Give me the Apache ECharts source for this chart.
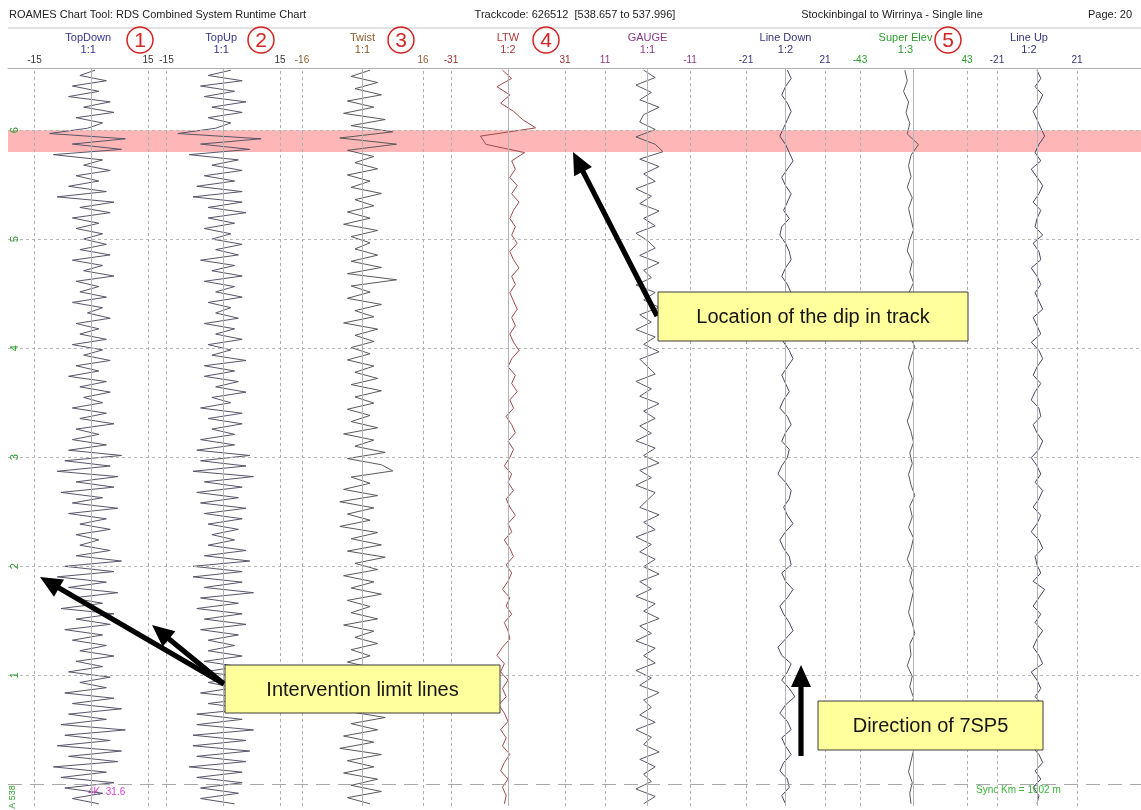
<!DOCTYPE html>
<html><head><meta charset="utf-8">
<script src="https://cdn.jsdelivr.net/npm/echarts@6/dist/echarts.min.js"></script>
<style>html,body{margin:0;padding:0;background:#fff}#c{width:1141px;height:810px}</style>
</head><body><div id="c"></div>
<script>
// ---------- data ----------
const channelNames = ['TopDown','TopUp','Twist','LTW','GAUGE','Line Down','Super Elev','Line Up'];
const channelScales = ['1:1','1:1','1:1','1:2','1:1','1:2','1:3','1:2'];
const channelLimits = [15,15,16,31,11,21,43,21];
const channelInverse = [false,false,false,false,true,false,false,false];
const kmTicks = [538.6,538.5,538.4,538.3,538.2,538.1];
const kmTickLabels = ['6','5','4','3','2','1'];
const kmSync = 538.0;
const dipBand = [538.6, 538.58];
const kmRange = [537.98, 538.657];
const kmFirstSample = 538.655, kmLastSample = 537.982;
const headerTexts = ['ROAMES Chart Tool: RDS Combined System Runtime Chart','Trackcode: 626512  [538.657 to 537.996]','Stockinbingal to Wirrinya - Single line','Page: 20'];
const calloutTexts = ['Location of the dip in track','Intervention limit lines','Direction of 7SP5'];
const circledNumbers = ['1','2','3','4','5'];
const footerTexts = ['4K  31.6','Sync Km = 1602 m','A 538'];

const topDown = [1,-3,4,-5,2,-6,5,-2,6,-4,3,-1,
 -11,9,-5,8,-10,
 3,-2,5,-4,2,-6,4,-9,6,-3,5,-5,2,-4,3,
 -2,4,-3,5,-5,3,-2,6,-4,2,-3,4,-5,3,-1,5,-4,2,-3,
 4,-5,3,-2,5,-4,2,-6,4,-3,5,-2,3,-5,4,-3,6,-4,2,-5,
 4,-6,8,-7,5,-9,7,-4,6,-8,3,-5,7,-6,4,-3,5,-4,2,-3,
 5,-4,8,-7,6,-9,4,-6,7,-5,3,-8,6,-4,5,-7,3,-5,4,-3,
 6,-4,3,-6,5,-3,4,-7,6,-5,8,-6,4,-8,9,-7,5,-9,8,-6,7,-10,4,-8,6,-7,3,-5,2];
const topUp = [2,-4,5,-6,3,-5,6,-3,5,-4,2,-2,
 -12,10,-6,7,-9,
 4,-3,5,-5,3,-7,5,-8,5,-4,6,-4,3,-5,2,
 -3,5,-2,4,-6,3,-3,5,-5,3,-2,5,-4,2,-2,4,-5,3,-2,
 5,-4,2,-3,6,-5,3,-5,4,-2,6,-3,2,-6,5,-4,5,-3,3,-6,
 3,-7,7,-6,6,-8,8,-5,5,-7,4,-6,6,-5,5,-4,4,-3,3,-4,
 6,-5,7,-8,5,-8,5,-5,8,-6,4,-7,5,-5,6,-6,4,-4,3,-4,
 5,-5,4,-5,6,-4,3,-6,7,-4,7,-7,5,-7,8,-8,6,-8,7,-7,6,-9,5,-7,5,-6,4,-6,3];
const twist = [2,-3,4,-2,5,-4,3,-5,6,-3,
 8,-6,9,-4,
 3,-2,4,-4,2,-3,5,-2,3,-4,2,-5,4,-3,2,-2,4,-3,5,-4,9,
 -3,2,-4,5,-2,3,-5,4,-2,3,-3,2,-4,3,-2,4,-3,5,-2,3,-4,
 2,-3,4,-5,3,-2,6,-4,5,8,-3,2,-5,4,-6,3,-4,2,-6,4,
 -3,5,-4,6,-2,4,-5,3,-3,5,-4,2,-3,4,-5,3,-2,4,-3,2,
 -4,3,-2,5,-3,4,-5,2,-4,6,-3,4,-5,3,-6,5,-4,3,-5,4,-3,5,-4,2];
const ltw = [-3,2,-6,1,-4,3,8,15,
 -15,-12,9,
 2,4,1,5,2,6,3,1,4,2,5,1,3,6,2,4,1,3,5,2,
 4,1,3,6,2,0,4,2,5,1,3,-1,2,4,0,3,1,-2,2,0,
 3,-1,1,4,0,2,-2,1,3,-1,2,0,-3,1,-1,2,-2,0,1,-3,
 -6,-2,-4,0,-3,-1,-5,-2,0,-4,-1,-3,1,-2,-4,0,-3,-1,-2];
const gauge = [1,-2,3,-1,2,-3,1,2,-2,
 3,-2,-4,
 2,-3,1,-2,3,-1,2,-3,1,-2,3,0,-2,2,-3,1,-1,3,-2,1,
 -3,2,-1,3,-2,1,-3,2,0,-2,3,-1,2,-3,1,-2,2,-1,3,-2,
 1,-3,2,-1,3,-2,0,2,-3,1,-2,3,-1,2,-2,1,-3,2,-1,3,
 -2,1,-3,2,-1,3,-2,1,-2,3,-1,2,-3,1,-1,2,-2,3,-1,1,-3,2,-2,1,-1,3,-2,1];
const lineDown = [1,3,0,-2,1,3,1,-1,-3,0,2,4,1,-2,0,3,1,-1,2,-2,-3,0,2,3,0,-2,1,3,-1,-2,
 2,0,-3,-1,2,4,1,-2,0,2,-1,-3,1,3,0,-2,2,1,-2,-4,0,3,2,-1,1,4,0,-3,-1,2,
 3,-2,0,4,1,-3,-1,2,4,0,-4,-2,3,1,-2,2,5,0,-3,1,3,-2,0,3,-1,-3,1,2,-2,0];
const superElev = [-7,-5,-8,-4,-6,-3,-5,4,-2,-4,-2,-5,-1,-4,-2,0,-3,-5,-1,-3,
 0,-4,-2,-5,-1,-3,1,-2,-4,-1,-3,0,-2,-5,-2,0,-3,-1,-4,-2,
 1,-3,-1,-4,0,-2,-5,-1,-3,0,-2,-4,-1,1,-3,-2,-5,-1,-3,0,
 -2,-4,-1,-3,0,-2,-4,-1,-3,-2];
const lineUp = [0,2,-1,3,1,-2,0,2,4,1,-1,2,-3,0,3,1,-2,2,0,-1,3,-2,1,2,-3,0,2,-1,1,3,
 -2,0,2,-3,1,3,0,-2,2,-1,-3,1,2,-2,0,3,1,-3,0,2,-1,3,1,-2,2,0,-3,1,3,-1,
 0,2,-2,4,1,-2,2,-1,3,0,-2,1,3,-3,0,2,-1,3,1,-2,2,0,-3,1,3,-1,2,-2,1,0];
const channelValues = [topDown, topUp, twist, ltw, gauge, lineDown, superElev, lineUp];

// ---------- layout & style ----------
const FONT = '"Liberation Sans", Arial, sans-serif';
const GRID_TOP = 68, GRID_BOTTOM = 4;
const chLeft  = [34.5,166.5,302,451,605,746,860,997];
const chRight = [148,280,423,565,690,825,967,1077];
const titleShift = [-3,-2,0,0,0,0,-8,-8];
const titleColors = ['#34348c','#34348c','#8a5c2e','#b03a3a','#8a3a8a','#34347a','#2e9a2e','#34347a'];
const labelColors = ['#333','#333','#8a5c2e','#a03030','#8a3a8a','#34347a','#2e9a2e','#34347a'];
const traceColors = ['#56566a','#56566a','#5a5a5a','#a24a4a','#5a5a6a','#46466a','#5a5a5a','#46466a'];
const circlePos = [[140,40],[261,40],[401,40],[546,40],[948,40]];

const W = 1141;
const chart = echarts.init(document.getElementById('c'), null, {renderer:'canvas'});

const grids = [{left:8, right:0, top:GRID_TOP, bottom:GRID_BOTTOM}];
const xAxes = [{gridIndex:0, type:'value', min:0, max:1, position:'top',
  axisLine:{show:true, lineStyle:{color:'#b0b0b0', width:1}}, axisTick:{show:false}, axisLabel:{show:false}, splitLine:{show:false}}];
const yAxes = [{gridIndex:0, type:'value', min:kmRange[0], max:kmRange[1], z:10,
  axisLine:{show:false}, axisTick:{show:false}, splitLine:{show:false},
  axisLabel:{customValues:kmTicks, inside:true, rotate:90, margin:1, color:'#2f9e2f', fontSize:11, fontFamily:FONT,
    formatter:(v)=>{const k=kmTicks.findIndex(t=>Math.abs(t-v)<1e-6); return k>=0?kmTickLabels[k]:'';}}}];
const series = [{
  type:'line', xAxisIndex:0, yAxisIndex:0, data:[], silent:true,
  markArea:{silent:true, itemStyle:{color:'#ffb6b6'}, data:[[{yAxis:dipBand[0]},{yAxis:dipBand[1]}]]},
  markLine:{silent:true, symbol:'none', label:{show:false},
    lineStyle:{color:'#b8b8b8', type:[3,3], width:1},
    data: kmTicks.map(v=>({yAxis:v})).concat([{yAxis:kmSync, lineStyle:{color:'#a8a8a8', type:[14,8], width:1}}])}
}];

channelNames.forEach((name,i)=>{
  const gi = i+1, lim = channelLimits[i];
  grids.push({left:chLeft[i], width:chRight[i]-chLeft[i], top:GRID_TOP, bottom:GRID_BOTTOM});
  xAxes.push({gridIndex:gi, type:'value', min:-lim, max:lim, interval:lim, inverse:channelInverse[i], position:'top',
    axisLine:{show:false}, axisTick:{show:false}, splitLine:{show:false},
    axisLabel:{show:true, showMinLabel:true, showMaxLabel:true, margin:3, color:labelColors[i], fontSize:10, fontFamily:FONT,
      formatter:(v)=> v===0 ? '' : String(v)}});
  yAxes.push({gridIndex:gi, type:'value', min:kmRange[0], max:kmRange[1], show:false});
  const vals = channelValues[i];
  const step = (kmFirstSample-kmLastSample)/(vals.length-1);
  series.push({
    type:'line', name, xAxisIndex:gi, yAxisIndex:gi, symbol:'none', silent:true, animation:false,
    lineStyle:{color:traceColors[i], width:1},
    data: vals.map((v,k)=>[v, kmFirstSample - k*step]),
    markLine:{silent:true, symbol:'none', label:{show:false}, animation:false,
      data:[
        {xAxis:-lim, lineStyle:{color:'#b0b0b0', type:[3,3], width:1}},
        {xAxis: lim, lineStyle:{color:'#b0b0b0', type:[3,3], width:1}},
        {xAxis: 0, lineStyle:{color:'#b4b4b4', type:'solid', width:1}}
      ]}
  });
});

function arrowPoints(x1,y1,x2,y2){
  const dx=x2-x1, dy=y2-y1, L=Math.hypot(dx,dy), ux=dx/L, uy=dy/L, px=-uy, py=ux;
  const hl=22, hw=10, sw=2.6, bx=x2-ux*hl, by=y2-uy*hl;
  return [[x1+px*sw,y1+py*sw],[bx+px*sw,by+py*sw],[bx+px*hw,by+py*hw],[x2,y2],[bx-px*hw,by-py*hw],[bx-px*sw,by-py*sw],[x1-px*sw,y1-py*sw]];
}
const graphics = [];
// header
graphics.push({type:'line', shape:{x1:8,y1:28,x2:W,y2:28}, style:{stroke:'#c4c4c4', lineWidth:1}, silent:true});
graphics.push({type:'text', x:9, y:15, style:{text:headerTexts[0], fill:'#222', font:'11px '+FONT, align:'left', verticalAlign:'middle'}});
graphics.push({type:'text', x:575, y:15, style:{text:headerTexts[1], fill:'#222', font:'11px '+FONT, align:'center', verticalAlign:'middle'}});
graphics.push({type:'text', x:892, y:15, style:{text:headerTexts[2], fill:'#222', font:'11px '+FONT, align:'center', verticalAlign:'middle'}});
graphics.push({type:'text', x:1088, y:15, style:{text:headerTexts[3], fill:'#222', font:'11px '+FONT, align:'left', verticalAlign:'middle'}});
// channel titles
channelNames.forEach((name,i)=>{
  const cx=(chLeft[i]+chRight[i])/2 + titleShift[i];
  graphics.push({type:'text', x:cx, y:32, style:{text:name+'\n'+channelScales[i], fill:titleColors[i], font:'11px '+FONT, lineHeight:12, align:'center', verticalAlign:'top'}});
});
// circled numbers
circlePos.forEach((p,i)=>{
  graphics.push({type:'circle', shape:{cx:p[0],cy:p[1],r:13}, style:{fill:'none', stroke:'#d42424', lineWidth:1.5}});
  graphics.push({type:'text', x:p[0], y:p[1]+1, style:{text:circledNumbers[i], fill:'#d42424', font:'21px '+FONT, align:'center', verticalAlign:'middle'}});
});
// footer texts
graphics.push({type:'text', x:88, y:792, style:{text:footerTexts[0], fill:'#e040e0', font:'10px '+FONT, align:'left', verticalAlign:'middle'}});
graphics.push({type:'text', x:976, y:790, style:{text:footerTexts[1], fill:'#3ab43a', font:'10px '+FONT, align:'left', verticalAlign:'middle'}});
graphics.push({type:'text', x:13, y:797, rotation:Math.PI/2, style:{text:footerTexts[2], fill:'#2f9e2f', font:'9px '+FONT, align:'center', verticalAlign:'middle'}});
// arrows
[[657,316,573,152],[224,684,40,577],[224,684,152,625],[801,756,801,665]].forEach(a=>{
  graphics.push({type:'polygon', shape:{points:arrowPoints(a[0],a[1],a[2],a[3])}, style:{fill:'#000'}, z:100});
});
// callout boxes
[[658,292,310,49],[225,665,275,48],[818,701,225,49]].forEach((b,i)=>{
  graphics.push({type:'rect', shape:{x:b[0],y:b[1],width:b[2],height:b[3]}, style:{fill:'#ffff9c', stroke:'#3c3c3c', lineWidth:1}, z:101});
  graphics.push({type:'text', x:b[0]+b[2]/2, y:b[1]+b[3]/2+1, z:102, style:{text:calloutTexts[i], fill:'#151515', font:'20px '+FONT, align:'center', verticalAlign:'middle'}});
});

chart.setOption({
  animation:false,
  backgroundColor:'#fff',
  textStyle:{fontFamily:FONT},
  grid:grids, xAxis:xAxes, yAxis:yAxes, series:series,
  graphic:graphics
});
</script></body></html>
